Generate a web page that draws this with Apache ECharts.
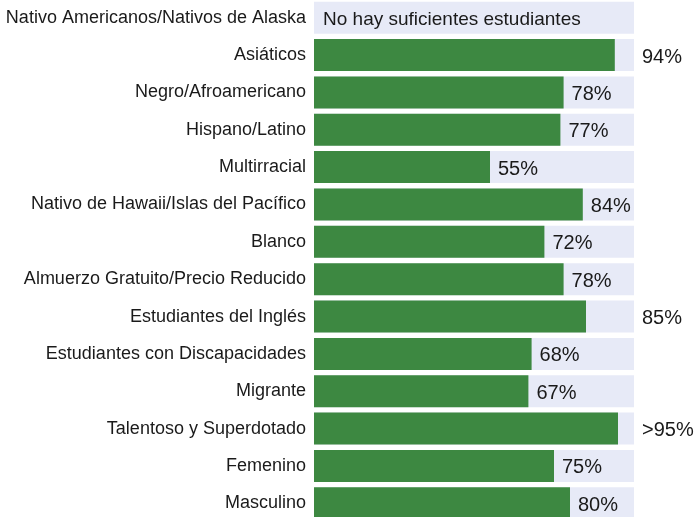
<!DOCTYPE html>
<html>
<head>
<meta charset="utf-8">
<script src="https://cdn.jsdelivr.net/npm/echarts@6/dist/echarts.min.js"></script>
<style>
html,body{margin:0;padding:0;background:#fff;}
#chart{width:696px;height:517px;}
</style>
</head>
<body>
<div id="chart"></div>
<script>
const categories = [
  'Nativo Americanos/Nativos de Alaska',
  'Asiáticos',
  'Negro/Afroamericano',
  'Hispano/Latino',
  'Multirracial',
  'Nativo de Hawaii/Islas del Pacífico',
  'Blanco',
  'Almuerzo Gratuito/Precio Reducido',
  'Estudiantes del Inglés',
  'Estudiantes con Discapacidades',
  'Migrante',
  'Talentoso y Superdotado',
  'Femenino',
  'Masculino'
];
const values = [null, 94, 78, 77, 55, 84, 72, 78, 85, 68, 67, 95, 75, 80];
const valueLabels = ['', '94%', '78%', '77%', '55%', '84%', '72%', '78%', '85%', '68%', '67%', '>95%', '75%', '80%'];
const noDataText = 'No hay suficientes estudiantes';
const fullScale = 100;

const FONT = '"Liberation Sans", Arial, Helvetica, sans-serif';
const fitsInside = v => v != null && v <= 84;

const bgData = categories.map((c, i) => {
  const v = values[i];
  if (v == null) {
    return { value: fullScale, label: { show: true, position: 'insideLeft', distance: 9, offset: [0, 2], formatter: noDataText, fontSize: 19, color: '#1a1a1a', fontFamily: FONT } };
  }
  if (!fitsInside(v)) {
    return { value: fullScale, label: { show: true, position: 'right', distance: 8, offset: [0, 2], formatter: valueLabels[i], fontSize: 20, color: '#1a1a1a', fontFamily: FONT } };
  }
  return { value: fullScale, label: { show: false } };
});

const mainData = values.map((v, i) => ({
  value: v,
  label: { show: fitsInside(v), position: 'right', distance: 8, offset: [0, 2], formatter: valueLabels[i], fontSize: 20, color: '#1a1a1a', fontFamily: FONT }
}));

const chart = echarts.init(document.getElementById('chart'), null, { renderer: 'canvas' });
chart.setOption({
  animation: false,
  grid: { left: 314, width: 320, top: -1, height: 523, containLabel: false, outerBoundsMode: 'none' },
  xAxis: { type: 'value', min: 0, max: fullScale, show: false },
  yAxis: {
    type: 'category', data: categories, inverse: true,
    axisLine: { show: false }, axisTick: { show: false }, splitLine: { show: false },
    axisLabel: { margin: 8, fontSize: 18, color: '#1a1a1a', fontFamily: FONT, hideOverlap: false }
  },
  series: [
    { type: 'bar', data: bgData, barWidth: 32, itemStyle: { color: '#e7eaf7' }, silent: true, z: 1 },
    { type: 'bar', data: mainData, barWidth: 32, barGap: '-100%', itemStyle: { color: '#3d8841' }, silent: true, z: 2 }
  ]
});
</script>
</body>
</html>
